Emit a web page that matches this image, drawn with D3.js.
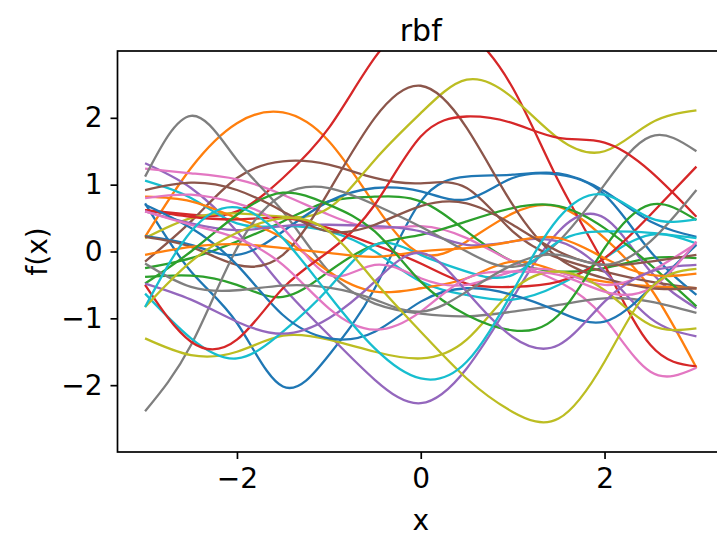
<!DOCTYPE html>
<html>
<head>
<meta charset="utf-8">
<script src="https://cdn.jsdelivr.net/npm/d3@7"></script>
<style>
  body { margin: 0; background: #fff; }
  text { font-family: "DejaVu Sans", sans-serif; fill: #000; }
</style>
</head>
<body>
<svg id="chart" width="717" height="536"></svg>
<script>
// sample positions along x, same for every draw
var xs = [-3, -2.5, -2, -1.5, -1, -0.5, 0, 0.5, 1, 1.5, 2, 2.5, 3];

// three draws per colour at the xs above
var blueRuns = [
  [0.72, -0.3, -1.07, -2.02, -1.55, -0.55, 0.75, 1.12, 1.15, 1.17, 0.9, 0.45, 0.22],
  [0.23, 0.1, -0.05, 0.3, 0.75, 0.95, 0.9, 0.78, 1.1, 1.15, 0.85, 0.0, -0.65],
  [0.7, 0.35, -0.2, -0.95, -1.3, -1.2, -0.75, -0.55, -0.65, -0.9, -1.05, -0.55, 0.1]
];
var orangeRuns = [
  [0.22, 1.25, 1.92, 2.08, 1.65, 0.7, -0.03, 0.15, 0.57, 0.67, 0.2, -0.55, -1.74],
  [0.82, 0.75, 0.5, 0.2, -0.3, -0.6, -0.55, -0.4, -0.15, -0.3, -0.45, -0.52, -0.55],
  [-0.05, 0.07, 0.11, 0.05, -0.02, -0.08, 0.0, 0.05, 0.15, 0.2, -0.1, -0.35, -0.33]
];
var greenRuns = [
  [-0.25, -0.1, 0.15, 0.45, 0.75, 0.82, 0.75, 0.3, -0.15, -0.3, -0.25, -0.1, -0.1],
  [-0.38, -0.36, -0.5, -0.68, -0.3, 0.1, 0.25, 0.45, 0.65, 0.68, 0.35, -0.2, -0.82],
  [-0.48, 0.0, 0.55, 0.88, 0.7, 0.3, -0.45, -0.95, -1.18, -0.95, 0.05, 0.7, 0.47]
];
var redRuns = [
  [0.62, 0.55, 0.6, 1.1, 1.85, 2.9, 3.5, 3.3, 2.45, 1.05, -0.2, -1.4, -1.72],
  [0.62, 0.52, 0.48, 0.5, 0.35, 0.1, -0.18, -0.48, -0.53, -0.45, -0.1, 0.55, 1.27],
  [-0.5, -1.35, -1.32, -0.55, 0.0, 0.7, 1.72, 2.02, 1.92, 1.7, 1.63, 1.2, 0.52]
];
var purpleRuns = [
  [1.32, 0.95, 0.3, -0.53, -1.25, -1.92, -2.27, -1.75, -0.7, 0.3, 0.5, -0.3, -0.85],
  [0.6, 0.42, 0.32, 0.38, 0.4, 0.38, 0.3, 0.1, 0.15, 0.15, -0.3, -1.0, -1.27],
  [-0.48, -0.72, -1.05, -1.23, -1.0, -0.45, -0.02, -0.6, -1.28, -1.4, -0.75, -0.3, -0.2]
];
var brownRuns = [
  [-0.15, 0.45, 1.1, 1.35, 1.3, 1.1, 1.02, 0.95, 0.3, -0.1, -0.3, -0.45, -0.55],
  [0.22, 0.07, -0.2, -0.05, 0.9, 2.0, 2.48, 1.85, 0.7, -0.1, -0.4, -0.55, -0.55],
  [0.92, 1.03, 0.92, 0.6, 0.3, 0.4, 0.68, 0.72, 0.4, 0.0, -0.2, -0.15, -0.05]
];
var pinkRuns = [
  [1.24, 1.17, 1.08, 0.85, 0.55, 0.35, 0.38, 0.2, -0.15, -0.45, -1.0, -1.8, -1.74],
  [0.8, 0.85, 0.72, 0.35, -0.35, -0.2, -0.4, -0.5, -0.3, -0.3, -0.5, -0.3, 0.12],
  [0.6, 0.4, 0.2, -0.2, -0.85, -1.17, -0.9, -0.4, -0.3, -0.35, -0.6, -0.55, 0.15]
];
var grayRuns = [
  [1.12, 2.03, 1.37, 0.6, -0.3, -0.78, -0.93, -0.97, -0.9, -0.8, -0.7, -0.75, -0.92],
  [-2.39, -1.4, 0.05, 0.85, 0.95, 0.7, 0.37, 0.0, -0.23, 0.15, 1.0, 1.72, 1.5],
  [-0.18, -0.53, -0.58, -0.51, -0.54, -0.72, -0.9, -0.6, -0.2, -0.05, -0.2, 0.15, 0.92]
];
var oliveRuns = [
  [0.2, 0.5, 0.57, 0.52, 0.65, 1.37, 2.07, 2.57, 2.3, 1.69, 1.5, 1.92, 2.11],
  [-1.3, -1.55, -1.5, -1.26, -1.32, -1.5, -1.6, -1.32, -0.58, -0.3, -0.58, -1.1, -1.15],
  [-0.83, -0.15, 0.28, 0.5, 0.3, -0.45, -1.2, -1.9, -2.4, -2.5, -1.65, -0.55, -0.26]
];
var cyanRuns = [
  [1.06, 0.8, 0.42, 0.38, 0.3, 0.0, -0.45, -0.65, -0.72, -0.5, -0.1, 0.25, 0.12],
  [-0.63, -1.3, -1.6, -1.2, -0.55, 0.1, -0.05, -0.3, -0.35, 0.15, 0.3, 0.28, 0.2],
  [-0.83, 0.3, 0.66, 0.2, -0.65, -1.45, -1.9, -1.65, -0.6, 0.5, 0.85, 0.5, 0.48]
];

var xTicks = [-2, 0, 2];
var yTicks = [-2, -1, 0, 1, 2];

// matplotlib colour cycle
var groups = [blueRuns, orangeRuns, greenRuns, redRuns, purpleRuns,
              brownRuns, pinkRuns, grayRuns, oliveRuns, cyanRuns];
var colors = ["#1f77b4", "#ff7f0e", "#2ca02c", "#d62728", "#9467bd",
              "#8c564b", "#e377c2", "#7f7f7f", "#bcbd22", "#17becf"];

var series = [];
for (var k = 0; k < 3; k++) {
  groups.forEach(function (g, i) {
    series.push({ color: colors[i], values: g[k] });
  });
}

// plot box (right spine sits just past the window edge, as in the reference)
var box = { x0: 117.5, x1: 724, y0: 51, y1: 452 };

var svg = d3.select("#chart");

var x = d3.scaleLinear().domain([-3.3, 3.3]).range([box.x0, box.x1]);
var y = d3.scaleLinear().domain([-3, 3]).range([box.y1, box.y0]);

svg.append("defs").append("clipPath").attr("id", "plot")
  .append("rect").attr("x", box.x0).attr("y", box.y0)
  .attr("width", box.x1 - box.x0).attr("height", box.y1 - box.y0);

var line = d3.line()
  .x(function (d) { return x(d[0]); })
  .y(function (d) { return y(d[1]); })
  .curve(d3.curveNatural);

svg.append("g").attr("clip-path", "url(#plot)")
  .selectAll("path").data(series).enter().append("path")
  .attr("d", function (s) { return line(s.values.map(function (v, i) { return [xs[i], v]; })); })
  .attr("fill", "none")
  .attr("stroke", function (s) { return s.color; })
  .attr("stroke-width", 2.3);

var minus = function (d) { return d < 0 ? "\u2212" + (-d) : String(d); };

var gx = svg.append("g").attr("transform", "translate(0," + box.y1 + ")")
  .call(d3.axisBottom(x).tickValues(xTicks).tickFormat(minus)
    .tickSize(7).tickPadding(9).tickSizeOuter(0));
var gy = svg.append("g").attr("transform", "translate(" + box.x0 + ",0)")
  .call(d3.axisLeft(y).tickValues(yTicks).tickFormat(minus)
    .tickSize(7).tickPadding(8).tickSizeOuter(0));

[gx, gy].forEach(function (g) {
  g.select(".domain").remove();
  g.selectAll(".tick line").attr("stroke", "#000").attr("stroke-width", 1.7);
  g.selectAll(".tick text").attr("font-size", 28).attr("font-family", "DejaVu Sans");
});

svg.append("rect").attr("x", box.x0).attr("y", box.y0)
  .attr("width", box.x1 - box.x0).attr("height", box.y1 - box.y0)
  .attr("fill", "none").attr("stroke", "#000").attr("stroke-width", 1.7);

svg.append("text").attr("x", (box.x0 + box.x1) / 2).attr("y", 41)
  .attr("text-anchor", "middle").attr("font-size", 30).text("rbf");

svg.append("text").attr("x", (box.x0 + box.x1) / 2).attr("y", 530)
  .attr("text-anchor", "middle").attr("font-size", 28).text("x");

svg.append("text")
  .attr("transform", "translate(47," + ((box.y0 + box.y1) / 2) + ") rotate(-90)")
  .attr("text-anchor", "middle").attr("font-size", 28).text("f(x)");
</script>
</body>
</html>
